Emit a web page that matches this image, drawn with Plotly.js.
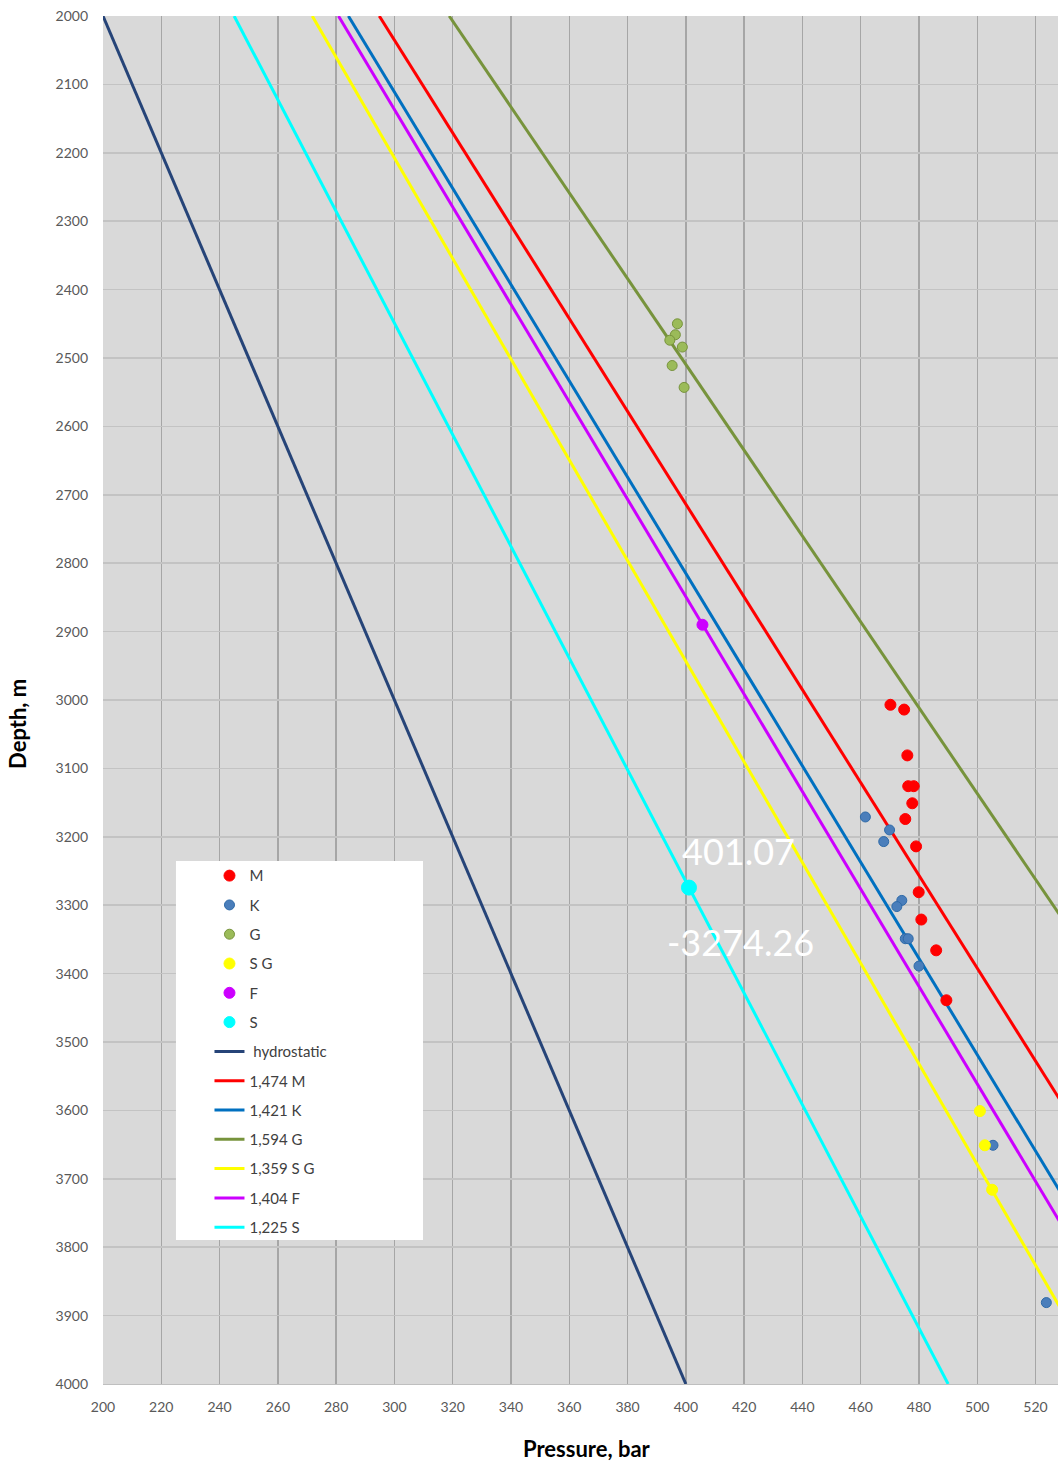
<!DOCTYPE html>
<html>
<head>
<meta charset="utf-8">
<script src="https://cdn.plot.ly/plotly-3.0.1.min.js"></script>
<style>html,body{margin:0;padding:0;background:#fff;}#chart{width:1058px;height:1461px;}</style>
</head>
<body>
<div id="chart"></div>
<script>
// ---- measured points (pressure, bar / depth, m) ----
const mP = [470.2, 474.9, 476.0, 476.3, 478.2, 477.7, 475.3, 479.0, 479.9, 480.8, 485.9, 489.4];
const mD = [3007, 3014, 3081, 3126, 3126, 3151, 3174, 3214, 3281, 3321, 3366, 3439];
const kP = [461.6, 469.9, 467.9, 474.1, 472.4, 475.3, 476.3, 480.0, 505.4, 523.7];
const kD = [3171, 3190, 3207, 3293, 3302, 3349, 3349, 3389, 3651, 3881];
const gP = [397.1, 396.4, 394.5, 398.8, 395.3, 399.4];
const gD = [2450, 2466, 2474, 2484, 2511, 2543];
const sgP = [500.9, 502.6, 505.1];
const sgD = [3601, 3651, 3716];
const fP = [405.7];
const fD = [2890];
const sP = [401.07];
const sD = [3274.26];

// ---- gradient lines (end points) ----
const lineDepth = [2000, 4000];
const hydroP = [200, 400];
const mLineP = [294.8, 589.6];
const kLineP = [284.2, 568.4];
const gLineP = [318.8, 637.6];
const sgLineP = [271.8, 543.6];
const fLineP = [280.8, 561.6];
const sLineP = [245.0, 490.0];

const pointNames = ['M', 'K', 'G', 'S G', 'F', 'S'];
const lineNames = ['\u00a0hydrostatic', '1,474 M', '1,421 K', '1,594 G', '1,359 S G', '1,404 F', '1,225 S'];

const xTicks = [200,220,240,260,280,300,320,340,360,380,400,420,440,460,480,500,520];
const yTicks = [2000,2100,2200,2300,2400,2500,2600,2700,2800,2900,3000,3100,3200,3300,3400,3500,3600,3700,3800,3900,4000];

const LW = 3;
function lineTrace(x, name, color, rank) {
  return {x: x, y: lineDepth, name: name, type: 'scatter', mode: 'lines',
          line: {color: color, width: LW}, legendgroup: 'g' + rank, legendrank: rank};
}
function ptTrace(x, y, name, color, border, size, rank) {
  return {x: x, y: y, name: name, type: 'scatter', mode: 'markers',
          marker: {color: color, size: size, line: {color: border, width: 1}},
          legendgroup: 'g' + rank, legendrank: rank};
}

const sHighlight = ptTrace(sP, sD, pointNames[5], '#00ffff', '#00ffff', 15, 6);
sHighlight.showlegend = false;

const traces = [
  lineTrace(hydroP, lineNames[0], '#264478', 7),
  lineTrace(mLineP, lineNames[1], '#ff0000', 8),
  lineTrace(kLineP, lineNames[2], '#0070c0', 9),
  lineTrace(gLineP, lineNames[3], '#77933c', 10),
  lineTrace(sgLineP, lineNames[4], '#ffff00', 11),
  lineTrace(fLineP, lineNames[5], '#cc00ff', 12),
  lineTrace(sLineP, lineNames[6], '#00ffff', 13),
  ptTrace(mP, mD, pointNames[0], '#ff0000', '#ff0000', 11, 1),
  ptTrace(kP, kD, pointNames[1], '#4a7ebb', '#2e6aa8', 10, 2),
  ptTrace(gP, gD, pointNames[2], '#9bbb59', '#77933c', 10, 3),
  ptTrace(sgP, sgD, pointNames[3], '#ffff00', '#ffff00', 11, 4),
  ptTrace(fP, fD, pointNames[4], '#cc00ff', '#cc00ff', 11, 5),
  ptTrace(sP, sD, pointNames[5], '#00ffff', '#00ffff', 11, 6),
  sHighlight
];

const FF = 'Lato, "Open Sans", sans-serif';
const tickFont = {family: FF, size: 14, color: '#595959'};

const layout = {
  width: 1058, height: 1461,
  margin: {l: 103, r: 0, t: 16, b: 77, pad: 0},
  paper_bgcolor: '#ffffff',
  plot_bgcolor: '#d9d9d9',
  showlegend: true,
  legend: {
    x: 0.1115, y: 0.3835, xanchor: 'left', yanchor: 'top',
    bgcolor: 'rgba(0,0,0,0)', borderwidth: 0,
    font: {family: FF, size: 15, color: '#404040'},
    tracegroupgap: 6.8, traceorder: 'grouped', itemwidth: 30
  },
  xaxis: {
    range: [200, 527.7], tickvals: xTicks, ticktext: xTicks.map(String),
    showgrid: true, gridcolor: '#a6a6a6', gridwidth: 1.5,
    zeroline: false, showline: true, linecolor: '#bfbfbf', linewidth: 1,
    ticks: '', tickfont: tickFont, ticklabelstandoff: 10
  },
  yaxis: {
    range: [4000, 2000], tickvals: yTicks, ticktext: yTicks.map(String),
    showgrid: true, gridcolor: '#c3c3c3', gridwidth: 1.5,
    zeroline: false, showline: false,
    ticks: '', tickfont: tickFont, ticklabelstandoff: 14
  },
  shapes: [{
    type: 'rect', xref: 'paper', yref: 'paper', layer: 'above',
    x0: 0.0764, x1: 0.3351, y0: 0.1053, y1: 0.3823,
    fillcolor: '#ffffff', line: {width: 0}
  }],
  annotations: [
    {x: sP[0], y: sD[0], xref: 'x', yref: 'y', text: String(sP[0].toFixed(2)), showarrow: false,
     xshift: 50, yshift: 37, font: {family: FF, size: 36, color: '#ffffff'}},
    {x: sP[0], y: sD[0], xref: 'x', yref: 'y', text: '-' + sD[0].toFixed(2), showarrow: false,
     xshift: 52, yshift: -54, font: {family: FF, size: 36, color: '#ffffff'}},
    {xref: 'paper', yref: 'paper', x: 0.5068, y: -0.0468, xanchor: 'center', yanchor: 'middle',
     text: '<b>Pressure, bar</b>', showarrow: false, font: {family: FF, size: 22, color: '#000000'}},
    {xref: 'paper', yref: 'paper', x: -0.089, y: 0.4825, xanchor: 'center', yanchor: 'middle',
     textangle: -90, text: '<b>Depth, m</b>', showarrow: false, font: {family: FF, size: 22, color: '#000000'}}
  ]
};

Plotly.newPlot('chart', traces, layout, {staticPlot: true, displayModeBar: false});
</script>
</body>
</html>
